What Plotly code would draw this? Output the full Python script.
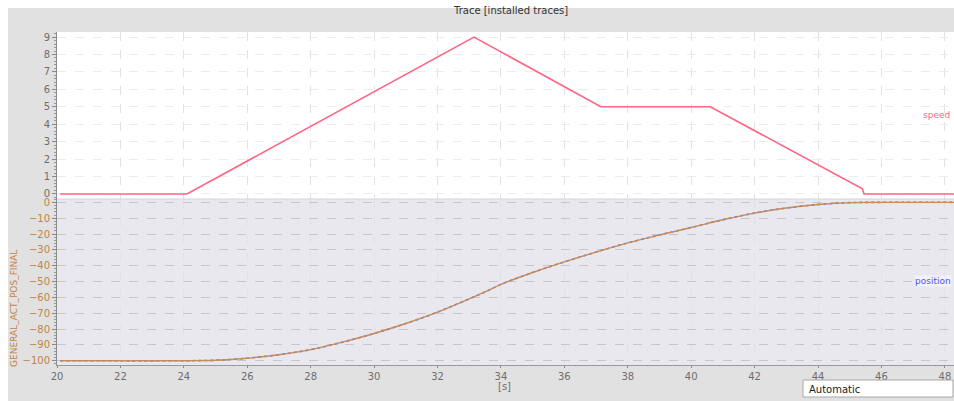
import plotly.graph_objects as go

# ---- data ----
speed_t = [20.1, 24.1, 33.15, 37.15, 40.6, 45.4, 45.45, 48.3]
speed_v = [0, 0, 9, 5, 5, 0.3, 0, 0]

pos_t = [20.1, 24.1, 25, 26, 27, 28, 29, 30, 31, 32, 33, 33.5, 34, 35, 36, 37,
         38, 39, 40, 41, 42, 43, 44, 45, 46, 48.3]
pos_v = [-100, -100, -99.7, -98.4, -96.2, -93, -88.3, -82.8, -76.5, -69.3, -60.9,
         -56.6, -51.8, -44.3, -37.6, -31.4, -25.6, -20.6, -15.9, -11.0, -6.8,
         -3.6, -1.4, -0.2, 0, 0]

x_ticks = list(range(20, 49, 2))
speed_ticks = list(range(0, 10))
pos_ticks = list(range(-100, 1, 10))

W, H = 954, 401
L, R, T, B = 57, 0, 32, 36
pw, ph = W - L - R, H - T - B


def px(sx):
    return (sx - L) / pw


def py(sy):
    return (H - B - sy) / ph


split = py(199)

speed_col = "#ff6484"
pos_col = "#c48d5c"
lab_col = "#c08448"
grey_txt = "#6e6e6e"

fig = go.Figure()
fig.add_trace(go.Scatter(x=speed_t, y=speed_v, mode="lines",
                         line=dict(color=speed_col, width=1.6),
                         xaxis="x", yaxis="y", showlegend=False, hoverinfo="skip"))
fig.add_trace(go.Scatter(x=pos_t, y=pos_v, mode="lines", line_shape="spline",
                         line=dict(color="#7868c8", width=1.6, dash="dot"),
                         xaxis="x2", yaxis="y2", showlegend=False, hoverinfo="skip"))
fig.add_trace(go.Scatter(x=pos_t, y=pos_v, mode="lines", line_shape="spline",
                         line=dict(color=pos_col, width=1.4),
                         xaxis="x2", yaxis="y2", showlegend=False, hoverinfo="skip"))

xr = [20, 20 + pw / 31.71]
common_x = dict(range=xr, tickvals=x_ticks, showgrid=True, gridcolor="#e2e2e6",
                griddash="dash", gridwidth=1, zeroline=False)

fig.update_layout(
    width=W, height=H,
    margin=dict(l=L, r=R, t=T, b=B),
    paper_bgcolor="#e1e1e1",
    plot_bgcolor="#ffffff",
    font=dict(family="DejaVu Sans", size=10, color=grey_txt),
    xaxis=dict(domain=[0, 1], anchor="y", showticklabels=False, ticks="",
               **common_x),
    yaxis=dict(domain=[split, 1], anchor="x", range=[-0.29, 9.29],
               tickvals=speed_ticks, showgrid=True, gridcolor="#ececec",
               griddash="dash", zeroline=False, showline=True,
               linecolor="#8a8a8a", linewidth=1, ticks="outside", ticklen=4,
               tickcolor="#8a8a8a", tickfont=dict(size=10, color=grey_txt),
               minor=dict(dtick=0.2, ticks="outside", ticklen=2,
                          tickcolor="#9a9a9a", showgrid=False)),
    xaxis2=dict(domain=[0, 1], anchor="y2", ticks="outside", ticklen=2,
                tickcolor="#8a8a8a", showline=True, linecolor="#9a9a9a",
                tickfont=dict(size=10, color=grey_txt),
                **common_x),
    yaxis2=dict(domain=[0, split], anchor="x2", range=[-102.7, 2.1],
                tickvals=pos_ticks, showgrid=True, gridcolor="#c6c6cc",
                griddash="dash", zeroline=False, showline=True,
                linecolor="#8a8a8a", ticks="outside", ticklen=4,
                tickcolor="#8a8a8a", tickfont=dict(size=10, color=lab_col),
                minor=dict(dtick=2, ticks="outside", ticklen=2,
                           tickcolor="#9a9a9a", showgrid=False)),
)

shapes = [
    # white frame at the top and left edges
    dict(type="rect", xref="paper", yref="paper", x0=px(0), x1=px(W), y0=py(8), y1=py(0),
         fillcolor="#ffffff", line=dict(width=0), layer="below"),
    dict(type="rect", xref="paper", yref="paper", x0=px(0), x1=px(8), y0=py(H), y1=py(0),
         fillcolor="#ffffff", line=dict(width=0), layer="below"),
    # lower plot background
    dict(type="rect", xref="paper", yref="paper", x0=0, x1=1, y0=0, y1=split,
         fillcolor="#e9e8ef", line=dict(width=0), layer="below"),
    # separator
    dict(type="line", xref="paper", yref="paper", x0=0, x1=1, y0=split, y1=split,
         line=dict(color="#d4d4d8", width=1)),
    # "Automatic" box
    dict(type="rect", xref="paper", yref="paper", x0=px(803), x1=px(953),
         y0=py(397), y1=py(380), fillcolor="#ffffff",
         line=dict(color="#a8a8a8", width=1), layer="above"),
]
fig.update_layout(shapes=shapes)

annotations = [
    dict(text="Trace [installed traces]", xref="paper", yref="paper",
         x=px(511), y=py(11), showarrow=False, xanchor="center", yanchor="middle",
         font=dict(size=10, color="#333333")),
    dict(text="speed", xref="paper", yref="paper", x=px(952), y=py(115),
         showarrow=False, xanchor="right", yanchor="middle",
         font=dict(size=9, color=speed_col)),
    dict(text="position", xref="paper", yref="paper", x=px(952), y=py(281),
         showarrow=False, xanchor="right", yanchor="middle", bgcolor="#f2f2fc",
         borderpad=0, font=dict(size=9, color="#5a50f0")),
    dict(text="GENERAL_ACT_POS_FINAL", xref="paper", yref="paper", x=px(14),
         y=py(309), showarrow=False, textangle=-90, xanchor="center",
         yanchor="middle", font=dict(size=9, color=lab_col)),
    dict(text="[s]", xref="paper", yref="paper", x=px(504), y=py(386),
         showarrow=False, xanchor="center", yanchor="middle",
         font=dict(size=10, color=grey_txt)),
    dict(text="Automatic", xref="paper", yref="paper", x=px(807), y=py(389),
         showarrow=False, xanchor="left", yanchor="middle",
         font=dict(size=10, color="#222222")),
]
fig.update_layout(annotations=annotations)

fig.write_html("out.html",
               config={"displayModeBar": False},
               post_script="document.body.style.margin='0';"
                           "document.documentElement.style.overflow='hidden';"
                           "document.body.style.overflow='hidden';")
